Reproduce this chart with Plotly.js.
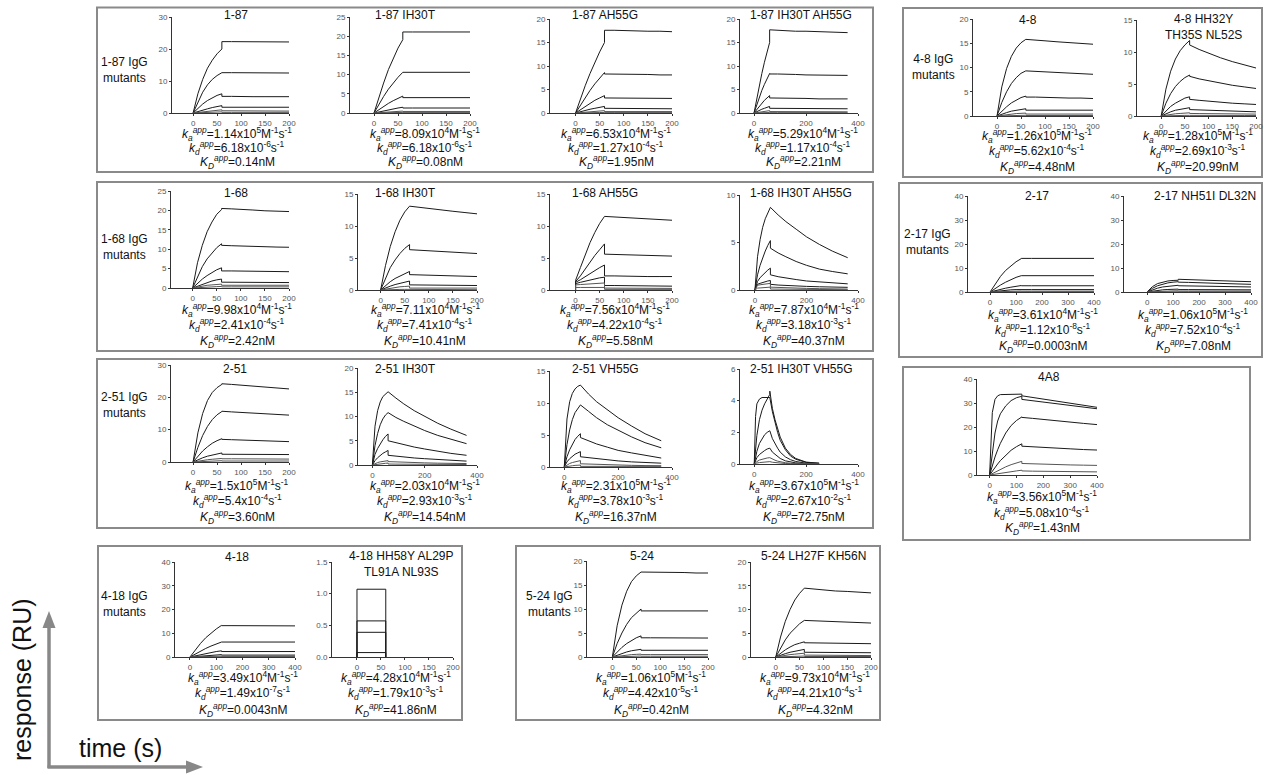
<!DOCTYPE html>
<html><head><meta charset="utf-8">
<script src="https://cdn.plot.ly/plotly-3.0.1.min.js"></script>
<style>html,body{margin:0;padding:0;background:#fff}#chart{width:1264px;height:775px}</style>
</head><body><div id="chart"></div>
<script>
// ---------- time grids (s) ----------
const G200 = [0,10,20,30,40,50,60,60,80,100,125,150,175,200];
const G360 = [0,10,20,30,40,50,60,60,90,120,160,200,250,300,360];
const GB3  = [0,0,10,20,30,40,50,60,60,80,100,125,150,175,200];
const GF   = [0,5,10,20,30,40,50,60,60,70,80,90,100,120,140,160,200,250];
const G400 = [0,20,40,60,80,100,120,120,160,200,250,300,350,400];
const G4A8 = [0,10,20,30,40,60,80,100,120,120,160,200,250,300,350,400];
const GBOX = [0,0,60,60];

// ---------- panel names ----------
const names = ['1-87','1-87 IH30T','1-87 AH55G','1-87 IH30T AH55G','4-8','4-8 HH32Y<br>TH35S NL52S',
  '1-68','1-68 IH30T','1-68 AH55G','1-68 IH30T AH55G',
  '2-51','2-51 IH30T','2-51 VH55G','2-51 IH30T VH55G',
  '4-18','4-18 HH58Y AL29P<br>TL91A NL93S','5-24','5-24 LH27F KH56N',
  '2-17','2-17 NH51I DL32N','4A8'];
const groups = ['1-87','1-68','2-51','4-18','5-24','4-8','2-17'];

// ---------- fitted constants (text) ----------
const kaMant = ['1.14','8.09','6.53','5.29','1.26','1.28','9.98','7.11','7.56','7.87','1.5','2.03','2.31','3.67','3.49','4.28','1.06','9.73','3.61','1.06','3.56'];
const kaExp  = ['5','4','4','4','5','5','4','4','4','4','5','4','5','5','4','4','5','4','4','5','5'];
const kdMant = ['6.18','6.18','1.27','1.17','5.62','2.69','2.41','7.41','4.22','3.18','5.4','2.93','3.78','2.67','1.49','1.79','4.42','4.21','1.12','7.52','5.08'];
const kdExp  = ['-6','-6','-4','-4','-4','-3','-4','-4','-4','-3','-4','-3','-3','-2','-7','-3','-5','-4','-8','-4','-4'];
const KDnM   = ['0.14','0.08','1.95','2.21','4.48','20.99','2.42','10.41','5.58','40.37','3.60','14.54','16.37','72.75','0.0043','41.86','0.42','4.32','0.0003','7.08','1.43'];

// ---------- response curves (RU), one array per concentration ----------
const r187 = [
 [0,6,10.5,14,16.5,18.5,20,22.3,22.3,22.3,22.3,22.2,22.2,22.2],
 [0,3.5,6.5,8.8,10.5,11.7,12.6,12.6,12.6,12.6,12.5,12.5,12.5,12.5],
 [0,1.5,2.8,3.9,4.8,5.5,6.0,5.2,5.2,5.1,5.1,5.1,5.1,5.1],
 [0,0.5,0.9,1.3,1.7,2.0,2.3,1.8,1.8,1.8,1.8,1.8,1.8,1.8],
 [0,0.2,0.4,0.6,0.8,0.9,1.0,0.7,0.7,0.7,0.6,0.6,0.6,0.6],
 [0,0.1,0.15,0.2,0.25,0.3,0.35,0.2,0.2,0.2,0.2,0.2,0.2,0.2]];
const r187_IH30T = [
 [0,4,7.8,11.3,14.3,16.9,19.1,21.1,21.1,21.1,21.1,21.1,21.1,21.1],
 [0,2.2,4.3,6.2,7.9,9.3,10.6,10.6,10.6,10.6,10.6,10.6,10.6,10.6],
 [0,0.9,1.7,2.5,3.2,3.8,4.4,4.0,4.0,4.0,4.0,4.0,4.0,4.0],
 [0,0.3,0.6,0.9,1.1,1.3,1.5,1.3,1.3,1.3,1.3,1.3,1.3,1.3],
 [0,0.1,0.2,0.3,0.4,0.45,0.5,0.4,0.4,0.4,0.4,0.4,0.4,0.4],
 [0,0.05,0.08,0.1,0.12,0.13,0.15,0.1,0.1,0.1,0.1,0.1,0.1,0.1]];
const r187_AH55G = [
 [0,3,5.8,8.4,10.8,13,15,17.6,17.6,17.5,17.5,17.4,17.4,17.3],
 [0,1.7,3.3,4.8,6.2,7.5,8.6,8.3,8.3,8.2,8.2,8.2,8.1,8.1],
 [0,0.7,1.4,2.1,2.7,3.2,3.7,3.2,3.2,3.2,3.1,3.1,3.1,3.1],
 [0,0.3,0.5,0.8,1.0,1.2,1.4,1.0,1.0,1.0,0.9,0.9,0.9,0.9],
 [0,0.1,0.2,0.3,0.4,0.45,0.5,0.3,0.3,0.3,0.3,0.3,0.3,0.3],
 [0,0.05,0.05,0.08,0.1,0.1,0.12,0.08,0.08,0.08,0.08,0.08,0.08,0.08]];
const r187_IH30T_AH55G = [
 [0,3,5.8,8.4,10.8,13,15,17.7,17.6,17.5,17.4,17.4,17.3,17.2,17.1],
 [0,1.7,3.3,4.8,6.1,7.3,8.4,8.3,8.3,8.2,8.2,8.1,8.1,8.0,8.0],
 [0,0.7,1.4,2.1,2.7,3.2,3.7,3.2,3.2,3.1,3.1,3.1,3.0,3.0,3.0],
 [0,0.3,0.5,0.8,1.0,1.2,1.4,1.0,1.0,1.0,0.9,0.9,0.9,0.9,0.9],
 [0,0.1,0.2,0.3,0.4,0.45,0.5,0.3,0.3,0.3,0.3,0.3,0.25,0.25,0.25],
 [0,0.03,0.05,0.07,0.09,0.1,0.1,0.07,0.07,0.07,0.07,0.07,0.07,0.07,0.07]];
const r48 = [
 [0,6,9.8,12.3,14,15.1,15.8,15.8,15.7,15.5,15.3,15.1,14.9,14.8],
 [0,2.8,5,6.7,7.9,8.8,9.3,9.3,9.2,9.1,9.0,8.9,8.8,8.6],
 [0,1,1.9,2.7,3.3,3.8,4.1,3.9,3.9,3.8,3.8,3.7,3.7,3.6],
 [0,0.4,0.7,1.0,1.2,1.4,1.5,1.2,1.2,1.2,1.2,1.2,1.2,1.2],
 [0,0.15,0.3,0.4,0.5,0.55,0.6,0.4,0.4,0.4,0.4,0.4,0.4,0.4],
 [0,0.05,0.08,0.1,0.12,0.14,0.15,0.1,0.1,0.1,0.1,0.1,0.1,0.1]];
const r48_mut = [
 [0,4.2,7,8.9,10.2,11.1,11.8,11.1,10.4,9.8,9.1,8.5,8.0,7.5],
 [0,2,3.5,4.6,5.4,6.0,6.4,6.2,5.8,5.5,5.1,4.8,4.55,4.3],
 [0,0.8,1.5,2.0,2.4,2.8,3.0,2.6,2.45,2.3,2.15,2.0,1.9,1.8],
 [0,0.35,0.65,0.9,1.05,1.2,1.3,1.0,0.95,0.9,0.8,0.75,0.7,0.65],
 [0,0.15,0.25,0.35,0.4,0.45,0.5,0.4,0.38,0.36,0.34,0.32,0.31,0.3],
 [0,0.04,0.06,0.08,0.09,0.1,0.1,0.08,0.08,0.08,0.08,0.08,0.08,0.08]];
const r168 = [
 [0,6.5,11,14.5,17,19,20.2,20.5,20.4,20.2,20.1,19.9,19.8,19.7],
 [0,3,5.5,7.5,9.1,10.4,11.4,11.0,10.9,10.8,10.7,10.6,10.55,10.5],
 [0,1.2,2.3,3.2,4.0,4.7,5.2,4.4,4.4,4.35,4.3,4.3,4.25,4.2],
 [0,0.5,1.0,1.4,1.8,2.1,2.3,1.5,1.5,1.5,1.45,1.45,1.4,1.4],
 [0,0.3,0.5,0.7,0.8,0.9,1.0,0.7,0.7,0.7,0.7,0.7,0.7,0.7],
 [0,0.1,0.2,0.25,0.3,0.35,0.4,0.3,0.3,0.3,0.3,0.3,0.3,0.3]];
const r168_IH30T = [
 [0,3.8,6.8,9.1,10.9,12.2,13.1,13.1,12.9,12.7,12.5,12.3,12.1,11.9],
 [0,1.9,3.5,4.7,5.7,6.5,7.1,6.3,6.2,6.1,6.0,5.9,5.8,5.7],
 [0,0.7,1.3,1.8,2.2,2.6,2.9,2.4,2.35,2.3,2.25,2.2,2.15,2.1],
 [0,0.35,0.6,0.85,1.05,1.25,1.4,0.8,0.8,0.78,0.76,0.74,0.72,0.7],
 [0,0.15,0.3,0.4,0.5,0.55,0.6,0.3,0.3,0.3,0.3,0.3,0.3,0.3],
 [0,0.05,0.07,0.08,0.09,0.1,0.1,0.05,0.05,0.05,0.05,0.05,0.05,0.05]];
const r168_AH55G = [
 [0,1.5,3.5,5.5,7.4,9.0,10.4,11.5,11.5,11.4,11.3,11.2,11.1,11.0,10.9],
 [0,1.3,2.2,3.3,4.4,5.4,6.3,7.2,5.6,5.55,5.5,5.45,5.4,5.35,5.3],
 [0,1.2,1.6,2.1,2.6,3.0,3.5,3.9,2.2,2.2,2.15,2.15,2.1,2.1,2.1],
 [0,1.0,1.2,1.4,1.6,1.75,1.9,2.0,0.7,0.7,0.68,0.66,0.64,0.62,0.6],
 [0,0.8,0.85,0.9,0.95,1.0,1.05,1.1,0.3,0.3,0.3,0.28,0.27,0.26,0.25],
 [0,0.4,0.4,0.4,0.4,0.4,0.4,0.4,0.1,0.1,0.1,0.1,0.1,0.1,0.1]];
const r168_IH30T_AH55G = [
 [0,3.5,5.3,6.6,7.5,8.2,8.7,8.7,7.9,7.2,6.4,5.6,4.8,4.1,3.4],
 [0,1.6,2.6,3.4,4.1,4.7,5.2,4.4,3.9,3.5,3.0,2.6,2.2,1.95,1.7],
 [0,0.9,1.3,1.6,1.9,2.1,2.3,1.6,1.4,1.25,1.1,0.95,0.85,0.75,0.65],
 [0,0.6,0.7,0.8,0.9,0.95,1.0,0.6,0.52,0.47,0.42,0.38,0.34,0.31,0.28],
 [0,0.5,0.55,0.6,0.65,0.68,0.7,0.3,0.26,0.23,0.2,0.17,0.14,0.12,0.1],
 [0,0.2,0.22,0.24,0.26,0.28,0.3,0.1,0.09,0.08,0.07,0.06,0.05,0.04,0.03]];
const r251 = [
 [0,9,15,19,21.5,23,24,24.2,24,23.8,23.5,23.2,22.9,22.6],
 [0,4.5,8.2,11,13.1,14.6,15.6,15.7,15.5,15.3,15.1,14.9,14.7,14.5],
 [0,1.8,3.4,4.7,5.8,6.6,7.2,7.0,6.9,6.8,6.7,6.6,6.45,6.3],
 [0,0.7,1.3,1.8,2.2,2.5,2.8,2.4,2.4,2.4,2.35,2.35,2.3,2.3],
 [0,0.3,0.5,0.7,0.85,1.0,1.1,1.0,1.0,0.95,0.95,0.9,0.9,0.9],
 [0,0.1,0.2,0.25,0.3,0.35,0.4,0.3,0.3,0.3,0.3,0.3,0.3,0.3]];
const r251_IH30T = [
 [0,8,11.2,13,14.1,14.7,15.1,15.1,13.8,12.6,11.2,10.0,8.6,7.4,6.1],
 [0,4,6.5,8.3,9.5,10.3,10.8,10.8,9.8,9.0,8.0,7.1,6.1,5.3,4.4],
 [0,2.2,3.4,4.4,5.2,5.9,6.4,5.0,4.6,4.2,3.7,3.3,2.8,2.4,2.0],
 [0,0.9,1.5,2.0,2.4,2.7,3.0,2.0,1.8,1.65,1.45,1.3,1.1,0.95,0.8],
 [0,0.3,0.5,0.65,0.75,0.85,0.9,0.7,0.62,0.56,0.5,0.44,0.38,0.34,0.3],
 [0,0.1,0.2,0.25,0.3,0.35,0.4,0.2,0.18,0.16,0.14,0.13,0.12,0.11,0.1]];
const r251_VH55G = [
 [0,7.5,10.2,11.5,12.2,12.6,12.8,12.8,11.4,10.2,8.9,7.7,6.4,5.2,4.1],
 [0,3.5,5.8,7.4,8.5,9.2,9.7,9.7,8.7,7.7,6.6,5.7,4.7,3.8,3.0],
 [0,1.6,2.7,3.6,4.3,4.8,5.2,4.6,4.1,3.6,3.1,2.6,2.2,1.8,1.4],
 [0,0.8,1.3,1.7,2.0,2.2,2.4,1.6,1.45,1.3,1.1,0.95,0.8,0.7,0.6],
 [0,0.35,0.55,0.7,0.8,0.9,1.0,0.5,0.45,0.4,0.35,0.3,0.26,0.22,0.2],
 [0,0.1,0.15,0.2,0.25,0.28,0.3,0.1,0.1,0.1,0.1,0.1,0.1,0.1,0.1]];
const r251_IH30T_VH55G = [
 [0,3.0,3.8,4.1,4.2,4.2,4.2,4.2,4.2,3.3,2.6,2.0,1.5,0.9,0.5,0.3,0.1,0.05],
 [0,1.0,1.8,2.8,3.4,3.8,4.1,4.4,4.6,3.5,2.8,2.2,1.7,1.0,0.6,0.35,0.12,0.05],
 [0,0.5,0.8,1.3,1.6,1.85,2.0,2.1,2.1,1.6,1.25,1.0,0.75,0.45,0.27,0.16,0.05,0],
 [0,0.25,0.4,0.6,0.75,0.85,0.95,1.0,1.0,0.75,0.6,0.45,0.35,0.2,0.12,0.07,0.02,0],
 [0,0.1,0.15,0.25,0.3,0.35,0.38,0.4,0.4,0.3,0.24,0.18,0.14,0.08,0.05,0.03,0.01,0],
 [0,0.04,0.06,0.09,0.11,0.13,0.14,0.15,0.15,0.11,0.09,0.07,0.05,0.03,0.02,0.01,0,0]];
const r418 = [
 [0,3,5.7,8.1,10.1,11.8,13.3,13.2,13.2,13.2,13.2,13.1,13.1,13.1],
 [0,1.3,2.5,3.6,4.6,5.5,6.3,6.3,6.3,6.3,6.3,6.3,6.3,6.3],
 [0,0.5,1.0,1.5,1.9,2.3,2.6,2.3,2.3,2.3,2.3,2.3,2.3,2.3],
 [0,0.2,0.4,0.6,0.75,0.9,1.0,0.8,0.8,0.8,0.8,0.8,0.8,0.8],
 [0,0.08,0.15,0.22,0.28,0.34,0.4,0.3,0.3,0.3,0.3,0.3,0.3,0.3],
 [0,0.02,0.04,0.06,0.08,0.09,0.1,0.08,0.08,0.08,0.08,0.08,0.08,0.08]];
const r418_mut = [
 [0,1.07,1.07,0],
 [0,0.57,0.57,0],
 [0,0.39,0.39,0],
 [0,0.07,0.07,0]];
const r524 = [
 [0,6.5,10.8,13.7,15.7,16.9,17.7,17.7,17.7,17.6,17.6,17.6,17.5,17.5],
 [0,2.8,5.0,6.8,8.2,9.2,10.0,9.6,9.6,9.6,9.6,9.6,9.6,9.6],
 [0,1.1,2.0,2.8,3.4,4.0,4.4,4.0,4.0,4.0,3.95,3.95,3.95,3.95],
 [0,0.4,0.75,1.05,1.3,1.45,1.6,1.4,1.4,1.4,1.4,1.4,1.4,1.4],
 [0,0.15,0.3,0.4,0.5,0.55,0.6,0.5,0.5,0.5,0.5,0.5,0.5,0.5],
 [0,0.05,0.1,0.13,0.16,0.18,0.2,0.15,0.15,0.15,0.15,0.15,0.15,0.15]];
const r524_mut = [
 [0,4.2,7.5,10.0,12.0,13.4,14.5,14.5,14.3,14.1,13.9,13.8,13.6,13.5],
 [0,1.9,3.6,5.0,6.1,7.0,7.7,7.7,7.6,7.5,7.4,7.3,7.25,7.15],
 [0,0.8,1.5,2.1,2.6,2.9,3.2,3.0,2.95,2.9,2.9,2.85,2.8,2.8],
 [0,0.4,0.7,1.0,1.2,1.4,1.6,1.0,1.0,0.95,0.95,0.9,0.9,0.9],
 [0,0.2,0.35,0.5,0.6,0.7,0.8,0.4,0.4,0.38,0.36,0.34,0.32,0.3],
 [0,0.05,0.1,0.13,0.16,0.18,0.2,0.1,0.1,0.1,0.1,0.1,0.1,0.1]];
const r217 = [
 [0,3.5,6.5,9.0,11.0,12.6,13.9,14.0,14.0,14.0,14.0,14.0,14.0,14.0],
 [0,1.5,2.9,4.1,5.2,6.1,6.8,6.8,6.8,6.8,6.8,6.8,6.8,6.8],
 [0,0.6,1.1,1.6,2.0,2.4,2.7,2.6,2.6,2.6,2.6,2.6,2.6,2.6],
 [0,0.3,0.5,0.7,0.9,1.0,1.1,1.0,1.0,1.0,1.0,1.0,1.0,1.0],
 [0,0.1,0.2,0.25,0.3,0.35,0.4,0.35,0.35,0.35,0.35,0.35,0.35,0.35],
 [0,0.03,0.05,0.07,0.08,0.09,0.1,0.1,0.1,0.1,0.1,0.1,0.1,0.1]];
const r217_mut = [
 [0,2.2,3.5,4.2,4.6,4.8,4.9,5.3,5.1,5.0,4.8,4.6,4.45,4.3],
 [0,1.5,2.6,3.3,3.8,4.1,4.3,4.1,4.0,3.8,3.65,3.5,3.35,3.2],
 [0,0.9,1.6,2.1,2.4,2.6,2.8,2.6,2.5,2.4,2.3,2.2,2.15,2.1],
 [0,0.4,0.7,0.9,1.05,1.15,1.2,1.0,1.0,0.95,0.95,0.9,0.9,0.9],
 [0,0.15,0.28,0.36,0.42,0.46,0.5,0.4,0.4,0.4,0.4,0.4,0.4,0.4],
 [0,0.05,0.08,0.1,0.1,0.1,0.1,0.1,0.1,0.1,0.1,0.1,0.1,0.1]];
const r4A8 = [
 [0,26,31.5,33,33.5,33.6,33.7,33.7,33.7,33.0,32.3,31.6,30.7,29.9,29.0,28.2],
 [0,10,17.5,22.5,25.5,28.8,31,32.2,32.8,31.5,30.9,30.4,29.7,29.0,28.3,27.6],
 [0,4,7.5,10.5,13.2,17.5,20.6,22.7,24.2,24.0,23.6,23.1,22.6,22.0,21.5,21.0],
 [0,1.7,3.2,4.6,6.0,8.3,10.3,11.8,13.0,12.0,11.7,11.5,11.2,10.9,10.6,10.4],
 [0,0.6,1.2,1.8,2.3,3.4,4.3,5.1,5.7,4.8,4.6,4.5,4.35,4.2,4.1,4.0],
 [0,0.2,0.4,0.6,0.8,1.1,1.4,1.7,2.0,1.7,1.6,1.55,1.5,1.4,1.35,1.3]];

const curves = [r187,r187_IH30T,r187_AH55G,r187_IH30T_AH55G,r48,r48_mut,
  r168,r168_IH30T,r168_AH55G,r168_IH30T_AH55G,
  r251,r251_IH30T,r251_VH55G,r251_IH30T_VH55G,
  r418,r418_mut,r524,r524_mut,r217,r217_mut,r4A8];
const grids = [G200,G200,G200,G360,G200,G200,
  G200,G200,GB3,G360,
  G200,G360,G360,GF,
  G400,GBOX,G200,G200,G400,G400,G4A8];

// ---------- layout geometry (pixels) ----------
const geo = [
 {L:172,R:289,T:17,B:113,x0:-44,x1:200,dx:50,y1:30,dy:10, tx:236,ty:15, kx:237,ky:[134,148,162]},
 {L:350,R:470,T:17,B:113,x0:-50,x1:200,dx:50,y1:25,dy:5, tx:405,ty:15, kx:425,ky:[134,148,162]},
 {L:550,R:672,T:19,B:113,x0:-53,x1:200,dx:50,y1:20,dy:5, tx:605,ty:15, kx:616,ky:[134,148,162]},
 {L:740,R:858,T:19,B:113,x0:-54,x1:400,dx:200,y1:20,dy:5, tx:801,ty:15, kx:803,ky:[134,148,162]},
 {L:973,R:1093,T:19,B:116,x0:-50,x1:200,dx:50,y1:20,dy:5, tx:1028,ty:20, kx:1037,ky:[136,151,167]},
 {L:1137,R:1256,T:20,B:116,x0:-51,x1:200,dx:50,y1:15,dy:5, tx:1203,ty:27, kx:1198,ky:[136,151,167]},
 {L:171,R:289,T:191,B:288,x0:-45,x1:200,dx:50,y1:25,dy:5, tx:236,ty:193, kx:237,ky:[310,325,341]},
 {L:358,R:477,T:194,B:290,x0:-47,x1:200,dx:50,y1:15,dy:5, tx:405,ty:193, kx:425,ky:[310,325,341]},
 {L:550,R:672,T:194,B:290,x0:-53,x1:200,dx:50,y1:15,dy:5, tx:605,ty:193, kx:615,ky:[310,325,341]},
 {L:740,R:858,T:195,B:290,x0:-58,x1:400,dx:200,y1:10,dy:5, tx:801,ty:193, kx:804,ky:[310,325,341]},
 {L:171,R:289,T:365,B:462,x0:-46,x1:200,dx:50,y1:30,dy:10, tx:235,ty:369, kx:237,ky:[486,501,517]},
 {L:358,R:477,T:368,B:465,x0:-55,x1:400,dx:200,y1:20,dy:5, tx:405,ty:369, kx:425,ky:[486,501,517]},
 {L:550,R:672,T:371,B:467,x0:-53,x1:400,dx:200,y1:15,dy:5, tx:605,ty:369, kx:616,ky:[486,501,517]},
 {L:740,R:858,T:369,B:464,x0:-55,x1:400,dx:200,y1:6,dy:2, tx:801,ty:369, kx:804,ky:[486,501,517]},
 {L:175,R:295,T:562,B:657,x0:-57,x1:400,dx:100,y1:40,dy:10, tx:237,ty:557, kx:243,ky:[678,693,710]},
 {L:332,R:453,T:562,B:657,x0:-52,x1:200,dx:50,y1:1.5,dy:0.5, tx:402,ty:564, kx:396,ky:[678,693,710], fmt:'.1f'},
 {L:587,R:708,T:561,B:657,x0:-53,x1:200,dx:50,y1:20,dy:5, tx:642,ty:556, kx:651,ky:[678,693,710]},
 {L:751,R:871,T:562,B:657,x0:-52,x1:200,dx:50,y1:20,dy:5, tx:813,ty:556, kx:815,ky:[678,693,710]},
 {L:968,R:1094,T:196,B:292,x0:-85,x1:400,dx:100,y1:40,dy:10, tx:1037,ty:196, kx:1043,ky:[315,330,346]},
 {L:1124,R:1251,T:196,B:292,x0:-89,x1:400,dx:100,y1:40,dy:10, tx:1205,ty:196, kx:1193,ky:[315,330,346]},
 {L:977,R:1097,T:379,B:475,x0:-47,x1:400,dx:100,y1:40,dy:10, tx:1049,ty:377, kx:1042,ky:[497,513,528]}
];
const groupPos = [[124,70],[124,247],[124,405],[124,604],[549,604],[933,67],[927,242]];
const boxes = [[97,7.5,873,172],[97,182,873,351],[97,359,873,528],[98,546,462,720],[516,546,880,720],
  [903,8,1262,177],[899,183,1262,357],[903,367,1250,540]];

const W=1264,H=775;
const px=x=>x/W, py=y=>1-y/H;
const FONT='Arial, "Liberation Sans", sans-serif';
const ticks=(a,b,s)=>{const v=[];for(let t=a;t<=b+1e-9;t+=s)v.push(+t.toFixed(3));return v;};
const traces=[];
const layout={width:W,height:H,margin:{l:0,r:0,t:0,b:0,pad:0},showlegend:false,
  paper_bgcolor:'#ffffff',plot_bgcolor:'rgba(0,0,0,0)',font:{family:FONT,color:'#111'},
  annotations:[],shapes:[]};

geo.forEach((g,i)=>{
  const n=i+1, sfx=(n===1?'':String(n));
  layout['xaxis'+sfx]={domain:[px(g.L),px(g.R)],range:[g.x0,g.x1],autorange:false,anchor:'y'+sfx,
    tickmode:'array',tickvals:ticks(0,g.x1,g.dx),showline:true,linecolor:'#333',linewidth:1,ticks:'outside',ticklen:2,tickwidth:1,
    tickcolor:'#333',tickfont:{size:8,color:'#555',family:FONT},showgrid:false,zeroline:false,fixedrange:true,automargin:false};
  layout['yaxis'+sfx]={domain:[py(g.B),py(g.T)],range:[0,g.y1],autorange:false,anchor:'x'+sfx,
    tickmode:'array',tickvals:ticks(0,g.y1,g.dy),showline:true,linecolor:'#333',linewidth:1,ticks:'outside',ticklen:2,tickwidth:1,
    tickcolor:'#333',tickfont:{size:8,color:'#555',family:FONT},showgrid:false,zeroline:false,fixedrange:true,automargin:false,
    tickformat:g.fmt||''};
  curves[i].forEach((yv,j)=>{
    traces.push({type:'scatter',mode:'lines',x:grids[i],y:yv,xaxis:'x'+sfx,yaxis:'y'+sfx,
      line:{color:j<4?'#1a1a1a':'#555',width:1},hoverinfo:'skip',cliponaxis:false});
  });
  const A=(t,x,y,size)=>layout.annotations.push({text:t,x:px(x),y:py(y),xref:'paper',yref:'paper',
    xanchor:'center',yanchor:'middle',showarrow:false,font:{size:size,family:FONT,color:'#111'}});
  A(names[i],g.tx,g.ty,12);
  const app='<sup><i>app</i></sup>';
  A('<i>k</i><sub><i>a</i></sub>'+app+'='+kaMant[i]+'x10<sup>'+kaExp[i]+'</sup>M<sup>-1</sup>s<sup>-1</sup>',g.kx,g.ky[0],12);
  A('<i>k</i><sub><i>d</i></sub>'+app+'='+kdMant[i]+'x10<sup>'+kdExp[i]+'</sup>s<sup>-1</sup>',g.kx,g.ky[1],12);
  A('<i>K</i><sub><i>D</i></sub>'+app+'='+KDnM[i]+'nM',g.kx,g.ky[2],12);
});
groups.forEach((gname,i)=>{
  layout.annotations.push({text:gname+' IgG<br>mutants',x:px(groupPos[i][0]),y:py(groupPos[i][1]),xref:'paper',yref:'paper',
    xanchor:'center',yanchor:'middle',showarrow:false,font:{size:12,family:FONT,color:'#111'}});
});
boxes.forEach(b=>layout.shapes.push({type:'rect',xref:'paper',yref:'paper',x0:px(b[0]),y0:py(b[3]),x1:px(b[2]),y1:py(b[1]),
  line:{color:'#8a8a8a',width:2},fillcolor:'rgba(0,0,0,0)',layer:'below'}));
const AC='#888888';
layout.shapes.push({type:'line',xref:'paper',yref:'paper',x0:px(49),y0:py(768),x1:px(49),y1:py(625),line:{color:AC,width:3.5}});
layout.shapes.push({type:'line',xref:'paper',yref:'paper',x0:px(47.5),y0:py(767),x1:px(190),y1:py(767),line:{color:AC,width:3.5}});
layout.shapes.push({type:'path',xref:'paper',yref:'paper',path:`M ${px(49)},${py(611)} L ${px(42.5)},${py(628)} L ${px(55.5)},${py(628)} Z`,fillcolor:AC,line:{color:AC,width:0}});
layout.shapes.push({type:'path',xref:'paper',yref:'paper',path:`M ${px(203)},${py(767)} L ${px(186)},${py(760.5)} L ${px(186)},${py(773.5)} Z`,fillcolor:AC,line:{color:AC,width:0}});
layout.annotations.push({text:'response (RU)',x:px(22),y:py(680),xref:'paper',yref:'paper',xanchor:'center',yanchor:'middle',
  textangle:-90,showarrow:false,font:{size:25,family:FONT,color:'#111'}});
layout.annotations.push({text:'time (s)',x:px(120),y:py(748),xref:'paper',yref:'paper',xanchor:'center',yanchor:'middle',
  showarrow:false,font:{size:25,family:FONT,color:'#111'}});

Plotly.newPlot('chart',traces,layout,{staticPlot:true,displayModeBar:false});
</script></body></html>
